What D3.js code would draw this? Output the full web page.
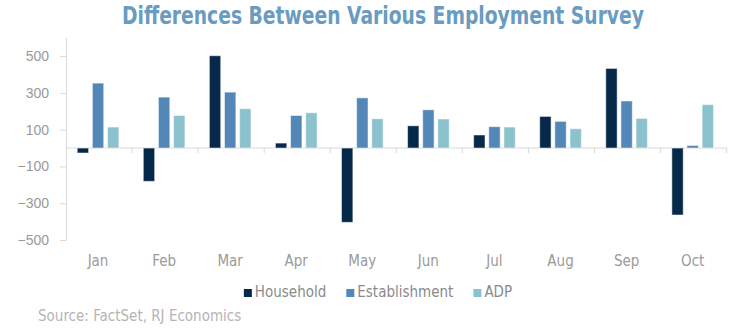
<!DOCTYPE html>
<html>
<head>
<meta charset="utf-8">
<script src="https://cdn.jsdelivr.net/npm/d3@7"></script>
<style>
  body { margin: 0; background: #fff; }
  svg text { font-family: "Liberation Sans Narrow", "DejaVu Sans Condensed", sans-serif; }
</style>
</head>
<body>
<div id="chart"></div>
<script>
var months = ["Jan", "Feb", "Mar", "Apr", "May", "Jun", "Jul", "Aug", "Sep", "Oct"];
var series = ["Household", "Establishment", "ADP"];
var household = [-27, -181, 502, 27, -404, 121, 71, 172, 433, -364];
var establishment = [353, 277, 304, 177, 273, 208, 116, 145, 256, 14];
var adp = [114, 177, 214, 192, 159, 158, 114, 105, 161, 236];
var yTicks = [-500, -300, -100, 100, 300, 500];
var colors = ["#06294a", "#5287b8", "#8cc2ce"];

var width = 753,
    height = 332;

var data = months.map(function(m, i) {
  return { month: m, values: [household[i], establishment[i], adp[i]] };
});

var svg = d3.select("#chart")
  .append("svg")
    .attr("width", width)
    .attr("height", height);

var x = d3.scaleBand()
  .domain(months)
  .range([66, 726.7])
  .padding(0);

var bw = x.bandwidth();
var x1 = d3.scaleBand()
  .domain(series)
  .range([bw * 0.17, bw * 0.8])
  .paddingInner(0.25);

var y = d3.scaleLinear()
  .domain([-500, 600])
  .range([240, 37.7]);

// title
svg.append("text")
  .attr("x", 383)
  .attr("y", 24)
  .attr("text-anchor", "middle")
  .attr("textLength", 522)
  .attr("lengthAdjust", "spacingAndGlyphs")
  .style("font-size", "24px")
  .style("font-weight", "bold")
  .style("fill", "#6a9bc0")
  .text("Differences Between Various Employment Survey");

// y axis
var yAxis = svg.append("g")
  .attr("transform", "translate(66,0)")
  .call(d3.axisLeft(y)
    .tickValues(yTicks)
    .tickSize(6)
    .tickSizeOuter(0)
    .tickPadding(11));
yAxis.select(".domain").attr("stroke", "#d9d9d9");
yAxis.selectAll(".tick line").attr("stroke", "#d9d9d9");
yAxis.selectAll(".tick text")
  .style("font-family", "'Liberation Sans', Arial, sans-serif")
  .style("font-size", "14px")
  .attr("fill", "#999");

// zero line with category ticks
var y0 = y(0);
svg.append("line")
  .attr("x1", x.range()[0])
  .attr("x2", x.range()[1])
  .attr("y1", y0)
  .attr("y2", y0)
  .attr("stroke", "#d9d9d9");

svg.selectAll(".cat-tick")
  .data(months.slice(1).map(function(m) { return x(m); }).concat([x.range()[1]]))
  .enter()
  .append("line")
  .attr("class", "cat-tick")
  .attr("x1", function(d) { return d; })
  .attr("x2", function(d) { return d; })
  .attr("y1", y0)
  .attr("y2", y0 + 5)
  .attr("stroke", "#d9d9d9");

// month labels
var xAxis = svg.append("g")
  .attr("transform", "translate(0,240)")
  .call(d3.axisBottom(x).tickSize(0).tickPadding(15));
xAxis.select(".domain").remove();
xAxis.selectAll(".tick text")
  .style("font-family", null)
  .style("font-size", "15px")
  .attr("dx", "-1")
  .attr("fill", "#9a9a9a");

// bars
var groups = svg.selectAll(".group")
  .data(data)
  .enter()
  .append("g")
  .attr("class", "group")
  .attr("transform", function(d) { return "translate(" + x(d.month) + ",0)"; });

groups.selectAll("rect")
  .data(function(d) {
    return d.values.map(function(v, i) { return { key: series[i], value: v, i: i }; });
  })
  .enter()
  .append("rect")
  .attr("x", function(d) { return x1(d.key); })
  .attr("width", x1.bandwidth())
  .attr("y", function(d) { return y(Math.max(0, d.value)); })
  .attr("height", function(d) { return Math.abs(y(d.value) - y0); })
  .attr("fill", function(d) { return colors[d.i]; })
  .attr("stroke", "#ffffff")
  .attr("stroke-opacity", 0.5)
  .attr("stroke-width", 1);

// legend
var legend = svg.append("g");
var lx = 0;
series.forEach(function(s, i) {
  var item = legend.append("g").attr("transform", "translate(" + lx + ",0)");
  item.append("rect")
    .attr("x", 0)
    .attr("y", 289)
    .attr("width", 8)
    .attr("height", 8)
    .attr("fill", colors[i]);
  var t = item.append("text")
    .attr("x", 11)
    .attr("y", 297)
    .style("font-size", "15px")
    .style("fill", "#8a8a8a")
    .text(s);
  lx += 11 + t.node().getComputedTextLength() + 20;
});
var legendW = lx - 20;
legend.attr("transform", "translate(" + (378 - legendW / 2) + ",0)");

// source
svg.append("text")
  .attr("x", 38)
  .attr("y", 321)
  .style("font-size", "15px")
  .style("fill", "#b5b5b5")
  .text("Source: FactSet, RJ Economics");
</script>
</body>
</html>
